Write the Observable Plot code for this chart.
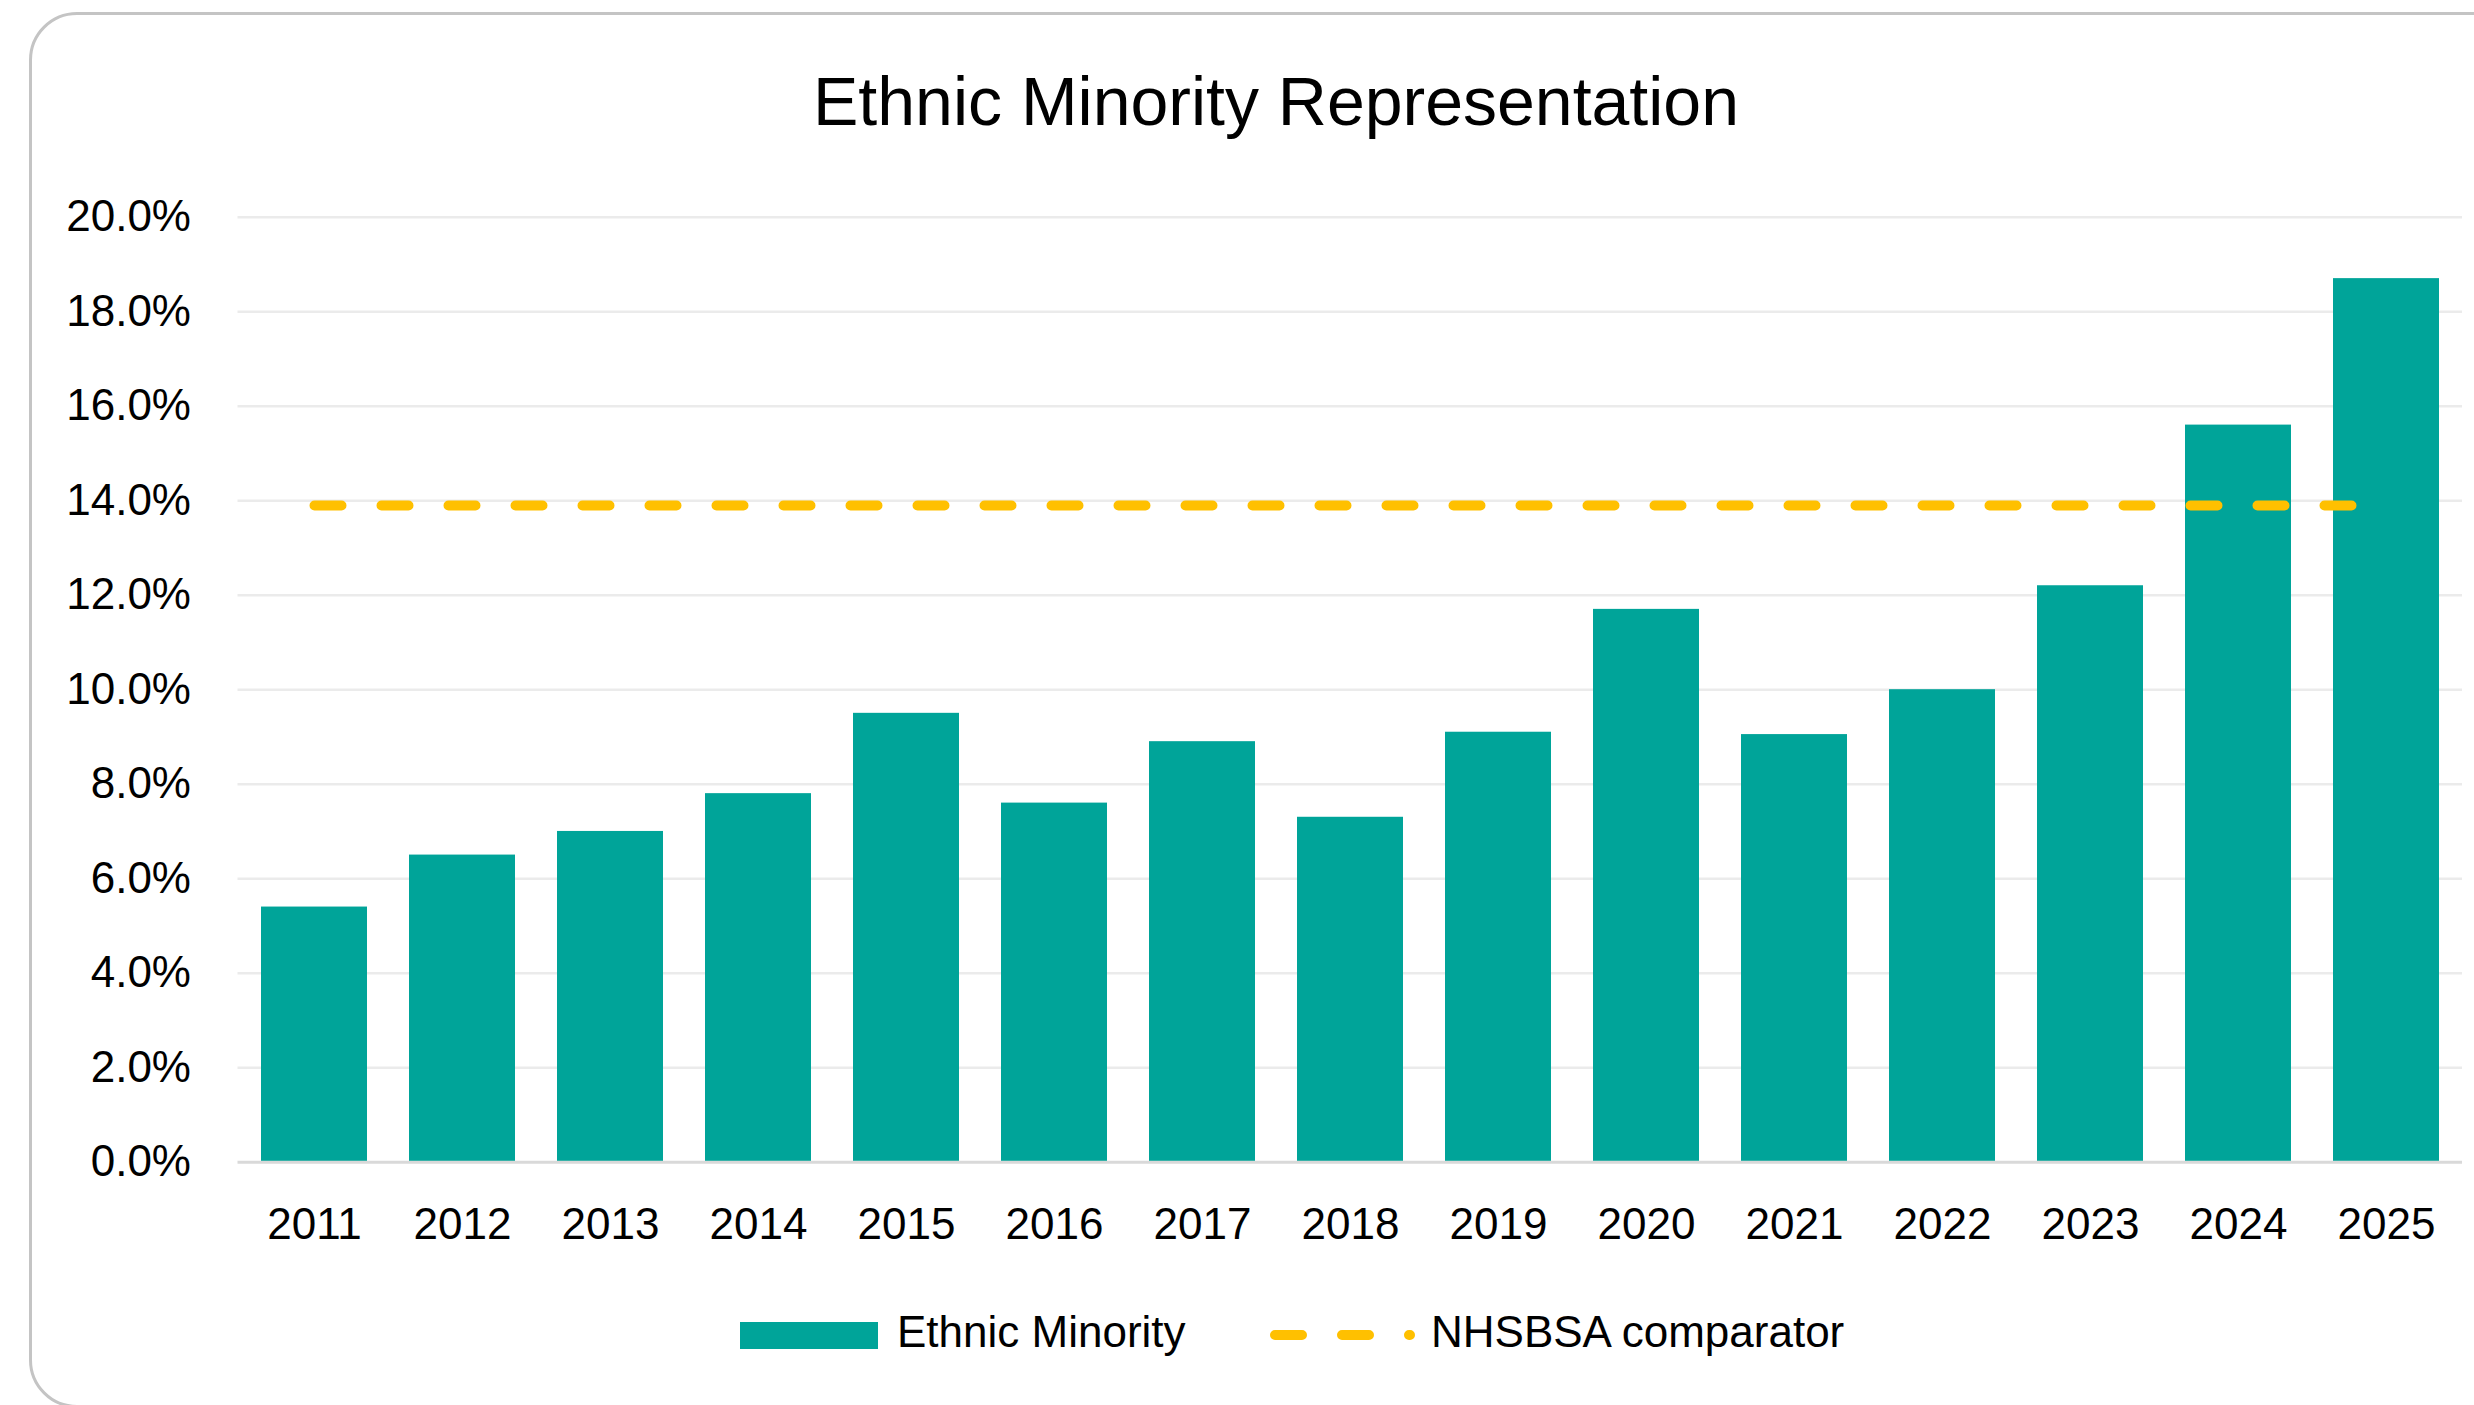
<!DOCTYPE html>
<html>
<head>
<meta charset="utf-8">
<script src="https://cdn.jsdelivr.net/npm/d3@7"></script>
<script src="https://cdn.jsdelivr.net/npm/@observablehq/plot@0.6"></script>
<style>
  html, body { margin: 0; padding: 0; background: #ffffff; overflow: hidden; width: 2474px; height: 1405px; }
  body { position: relative; font-family: "Liberation Sans", Arial, sans-serif; color: #000; }
  #frame { position: absolute; left: 29px; top: 12px; width: 2600px; height: 1396px; border: 3px solid #c4c4c4; border-radius: 48px; box-sizing: border-box; pointer-events: none; z-index: 5; }
  #chart { position: absolute; left: 0; top: 0; }
  #title { position: absolute; left: 1276px; top: 67px; transform: translateX(-50%); font-size: 68px; line-height: 1; white-space: nowrap; }
  .leg { position: absolute; font-size: 44px; line-height: 1; white-space: nowrap; }
</style>
</head>
<body>
<div id="frame"></div>
<div id="title">Ethnic Minority Representation</div>
<div id="chart"></div>
<div id="legend"></div>
<script>
const years = ["2011","2012","2013","2014","2015","2016","2017","2018","2019","2020","2021","2022","2023","2024","2025"];
const ethnicMinority = [5.4, 6.5, 7.0, 7.8, 9.5, 7.6, 8.9, 7.3, 9.1, 11.7, 9.05, 10.0, 12.2, 15.6, 18.7];
const comparatorValue = 13.9;
const yTicks = [0, 2, 4, 6, 8, 10, 12, 14, 16, 18, 20];
const seriesNames = ["Ethnic Minority", "NHSBSA comparator"];
const colors = { bar: "#00A499", line: "#FFC000" };

const barData = years.map((y, i) => ({ year: y, value: ethnicMinority[i] }));
const lineData = years.map(y => ({ year: y, value: comparatorValue }));

const W = 2474, H = 1270;
const plot = Plot.plot({
  width: W,
  height: H,
  marginLeft: 237.5,
  marginRight: 12,
  marginTop: 216.7,
  marginBottom: H - 1161.7,
  style: { fontFamily: "'Liberation Sans', Arial, sans-serif", fontSize: "44px", background: "transparent", color: "#000" },
  x: { type: "band", domain: years, paddingInner: 0.285, paddingOuter: 0.1425, align: 0.5 },
  y: { domain: [0, 20] },
  marks: [
    Plot.ruleY(yTicks.filter(d => d > 0), { stroke: "#ebebeb", strokeWidth: 2.5 }),
    Plot.barY(barData, { x: "year", y: "value", fill: colors.bar }),
    Plot.ruleY([0], { stroke: "#d9d9d9", strokeWidth: 3 }),
    Plot.lineY(lineData, { x: "year", y: "value", stroke: colors.line, strokeWidth: 10, strokeDasharray: "27,40", strokeLinecap: "round" }),
    Plot.axisY({ ticks: yTicks, tickFormat: d => d.toFixed(1) + "%", tickSize: 0, tickPadding: 47, fontSize: 44, fill: "#000", label: null }),
    Plot.axisX({ tickSize: 0, tickPadding: 46, fontSize: 44, fill: "#000", label: null })
  ]
});
document.getElementById("chart").appendChild(plot);

// Legend
const legend = document.getElementById("legend");
const sw = document.createElement("div");
sw.style.cssText = `position:absolute;left:740px;top:1322px;width:138px;height:27px;background:${colors.bar};`;
legend.appendChild(sw);
const t1 = document.createElement("div");
t1.className = "leg";
t1.style.left = "897px"; t1.style.top = "1310px";
t1.textContent = seriesNames[0];
legend.appendChild(t1);

const ns = "http://www.w3.org/2000/svg";
const ls = document.createElementNS(ns, "svg");
ls.setAttribute("width", "170"); ls.setAttribute("height", "30");
ls.style.cssText = "position:absolute;left:1255px;top:1320px;overflow:visible;";
const ln = document.createElementNS(ns, "line");
ln.setAttribute("x1", "20"); ln.setAttribute("x2", "155");
ln.setAttribute("y1", "15"); ln.setAttribute("y2", "15");
ln.setAttribute("stroke", colors.line); ln.setAttribute("stroke-width", "10");
ln.setAttribute("stroke-dasharray", "27,40"); ln.setAttribute("stroke-linecap", "round");
ls.appendChild(ln);
legend.appendChild(ls);

const t2 = document.createElement("div");
t2.className = "leg";
t2.style.left = "1431px"; t2.style.top = "1310px";
t2.textContent = seriesNames[1];
legend.appendChild(t2);
</script>
</body>
</html>
